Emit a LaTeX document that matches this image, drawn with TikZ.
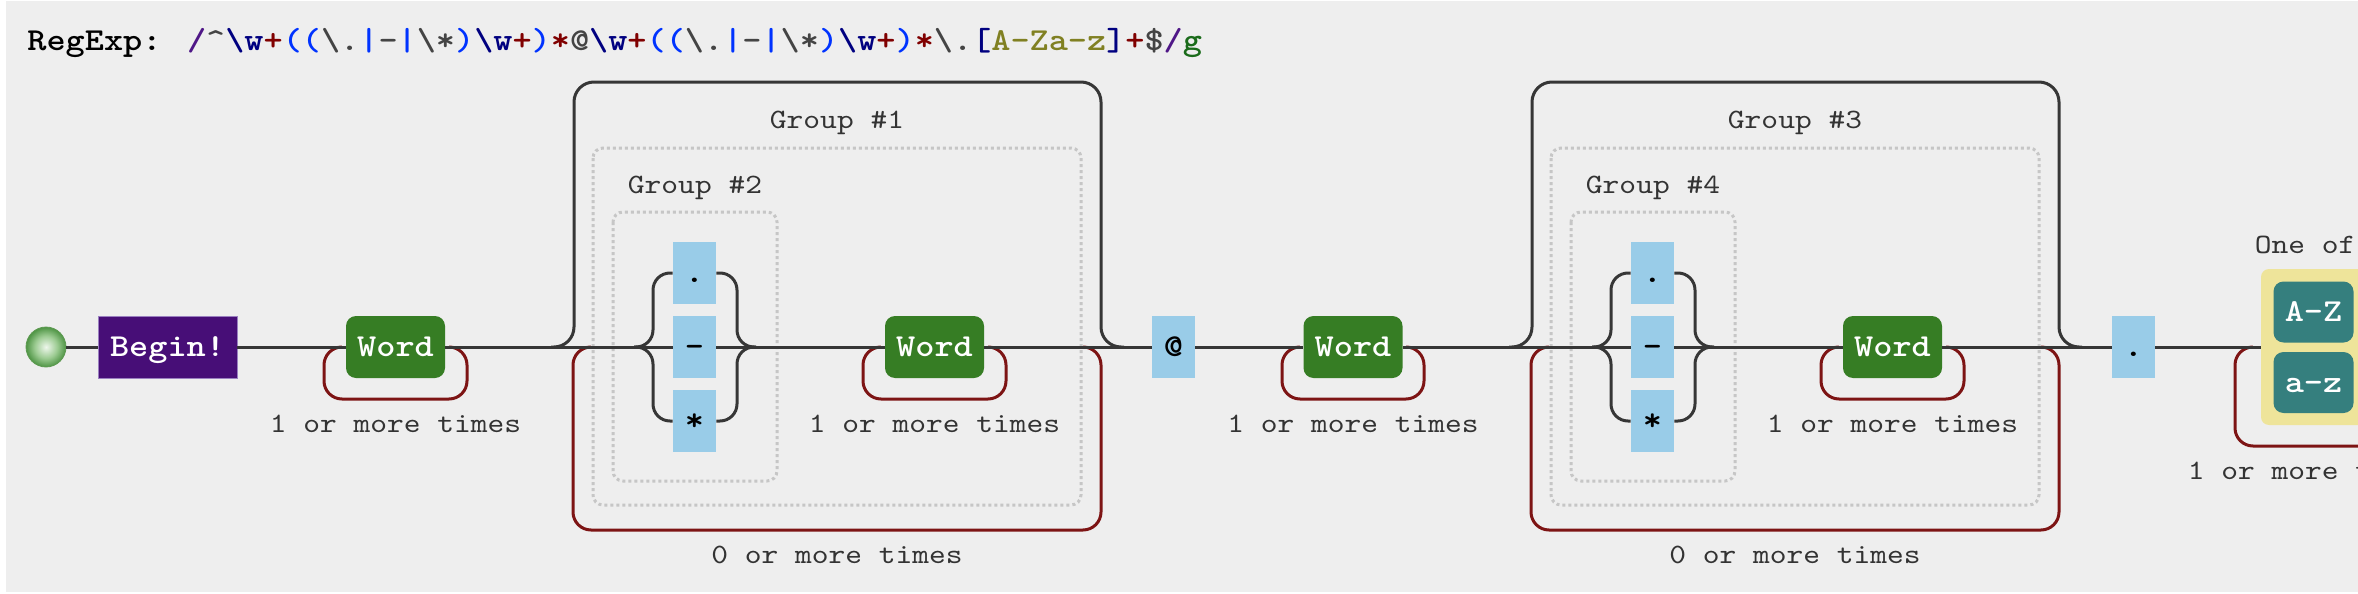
\documentclass[tikz,border=0pt]{standalone}
\usepackage{fontspec}
\newfontfamily\mono{lmmono10-regular}[Extension=.otf, BoldFont=lmmonolt10-bold, FakeStretch=1.14]
\definecolor{bg}{HTML}{EEEEEE}
\definecolor{linec}{HTML}{363636}
\definecolor{loopred}{HTML}{7D1414}
\definecolor{dotgray}{HTML}{C6C6C6}
\definecolor{beginpurple}{HTML}{470E77}
\definecolor{beginborder}{HTML}{9A80C0}
\definecolor{wordgreen}{HTML}{367D24}
\definecolor{litblue}{HTML}{99CCE8}
\definecolor{tealc}{HTML}{357F7E}
\definecolor{yellowc}{HTML}{EEE49A}
\definecolor{labelgray}{HTML}{333333}
\definecolor{rxpurple}{HTML}{4F1787}
\definecolor{rxnavy}{HTML}{000080}
\definecolor{rxred}{HTML}{800000}
\definecolor{rxblue}{HTML}{0033FF}
\definecolor{rxgray}{HTML}{444444}
\definecolor{rxolive}{HTML}{808022}
\definecolor{rxgreen}{HTML}{1A6B1A}
\definecolor{ballin}{HTML}{EEF7EC}
\definecolor{ballmid}{HTML}{9CCB92}
\definecolor{ballout}{HTML}{4E9444}
\definecolor{ballrim}{HTML}{5E9A52}
\pgfdeclareradialshading{ball}{\pgfpoint{0bp}{0bp}}{color(0bp)=(ballin); color(14bp)=(ballmid); color(25bp)=(ballout); color(50bp)=(ballout)}
\tikzset{
  mainline/.style={draw=linec, line width=1.5pt},
  skippath/.style={draw=linec, line width=1.5pt, rounded corners=10pt},
  bracepath/.style={draw=linec, line width=1.5pt, rounded corners=8.5pt},
  looppath/.style={draw=loopred, line width=1.5pt, rounded corners=9pt},
  grpbox/.style={draw=dotgray, line width=1.5pt, dash pattern=on 1.5pt off 1.5pt, rounded corners=5pt},
  boxfont/.style={font=\mono\bfseries\fontsize{16pt}{18pt}\selectfont},
  wordbox/.style={boxfont, fill=wordgreen, text=white, rounded corners=5pt, minimum width=49.5pt, minimum height=31pt, inner sep=0pt, text height=9.5pt, text depth=0pt},
  litbox/.style={boxfont, fill=litblue, text=black, minimum width=21.5pt, minimum height=31pt, inner sep=0pt, text height=9.5pt, text depth=0pt},
  tealbox/.style={boxfont, fill=tealc, text=white, rounded corners=5pt, minimum width=40pt, minimum height=30.5pt, inner sep=0pt, text height=9.5pt, text depth=0pt},
  lbl/.style={font=\mono\fontsize{14pt}{16pt}\selectfont, text=labelgray, anchor=base, inner sep=0pt}
}
\begin{document}
\begin{tikzpicture}[x=0.5pt,y=-0.5pt]
\useasboundingbox (0,0) rectangle (2358,594);
\clip (0,0) rectangle (2358,594);
\fill[white] (0,0) rectangle (2358,594);
\fill[bg] (6,1) rectangle (2358,592);

% title
\node[anchor=base west, inner sep=0pt, font=\mono\bfseries\fontsize{16pt}{18pt}\selectfont] (rx) at (27,50)
{RegExp: {\color{rxpurple}/}{\color{rxgray}\textasciicircum}{\color{rxnavy}\textbackslash w}{\color{rxred}+}{\color{rxblue}((}{\color{rxgray}\textbackslash.}{\color{rxblue}|}{\color{rxgray}-}{\color{rxblue}|}{\color{rxgray}\textbackslash*}{\color{rxblue})}{\color{rxnavy}\textbackslash w}{\color{rxred}+}{\color{rxblue})}{\color{rxred}*}{\color{rxgray}@}{\color{rxnavy}\textbackslash w}{\color{rxred}+}{\color{rxblue}((}{\color{rxgray}\textbackslash.}{\color{rxblue}|}{\color{rxgray}-}{\color{rxblue}|}{\color{rxgray}\textbackslash*}{\color{rxblue})}{\color{rxnavy}\textbackslash w}{\color{rxred}+}{\color{rxblue})}{\color{rxred}*}{\color{rxgray}\textbackslash.}{\color{rxnavy}[}{\color{rxolive}A-Za-z}{\color{rxnavy}]}{\color{rxred}+}{\color{rxgray}\$}{\color{rxpurple}/}{\color{rxgreen}g}};

% group boxes (dotted)
\draw[grpbox] (593,148) rectangle (1081,505);
\draw[grpbox] (613,212) rectangle (777,481);
\draw[grpbox] (1551,148) rectangle (2039,505);
\draw[grpbox] (1571,212) rectangle (1735,481);

% skip paths over groups
\draw[skippath] (551,347) -- (574,347) -- (574,82) -- (1101,82) -- (1101,347) -- (1124,347);
\draw[skippath] (1509,347) -- (1532,347) -- (1532,82) -- (2059,82) -- (2059,347) -- (2082,347);

% repeat loops
\draw[looppath] (342,347) -- (324,347) -- (324,399) -- (467,399) -- (467,347) -- (449,347);
\draw[looppath] (881,347) -- (863,347) -- (863,399) -- (1006,399) -- (1006,347) -- (988,347);
\draw[looppath] (1300,347) -- (1282,347) -- (1282,399) -- (1424,399) -- (1424,347) -- (1406,347);
\draw[looppath] (1839,347) -- (1821,347) -- (1821,399) -- (1964,399) -- (1964,347) -- (1946,347);
\draw[looppath] (591,347) -- (573,347) -- (573,530) -- (1101,530) -- (1101,347) -- (1083,347);
\draw[looppath] (1549,347) -- (1531,347) -- (1531,530) -- (2059,530) -- (2059,347) -- (2041,347);
\draw[looppath] (2253,347) -- (2235,347) -- (2235,446) -- (2392,446) -- (2392,347) -- (2374,347);

% nodes
\node[circle, minimum size=20pt, inner sep=0pt, shading=ball, draw=ballrim, line width=0.4pt] (start) at (46,347) {};
\node[boxfont, fill=beginpurple, draw=beginborder, line width=0.4pt, text=white, minimum width=69.5pt, minimum height=31pt, inner sep=0pt, text height=9.5pt, text depth=0pt] (begin) at (167.5,347) {Begin!};
\node[wordbox] (w1) at (395.5,347) {Word};
\node[litbox] (a1) at (694.5,273) {.};
\node[litbox] (a2) at (694.5,347) {-};
\node[litbox] (a3) at (694.5,421) {*};
\node[wordbox] (w2) at (934.5,347) {Word};
\node[litbox] (at) at (1173.5,347) {@};
\node[wordbox] (w3) at (1353,347) {Word};
\node[litbox] (b1) at (1652.5,273) {.};
\node[litbox] (b2) at (1652.5,347) {-};
\node[litbox] (b3) at (1652.5,421) {*};
\node[wordbox] (w4) at (1892.5,347) {Word};
\node[litbox] (dot) at (2133.5,347) {.};
\node[fill=yellowc, rounded corners=4pt, minimum width=52.5pt, minimum height=78pt, inner sep=0pt] (cls) at (2313.5,347) {};
\node[tealbox] (up) at (2313.5,312) {A-Z};
\node[tealbox] (lo) at (2313.5,382.5) {a-z};

% junction coordinates
\coordinate (jl1) at (634,347);
\coordinate (vl1) at (653,347);
\coordinate (vr1) at (737,347);
\coordinate (jr1) at (756,347);
\coordinate (jl3) at (1592,347);
\coordinate (vl3) at (1611,347);
\coordinate (vr3) at (1695,347);
\coordinate (jr3) at (1714,347);

% main line
\draw[mainline] (start) -- (begin);
\draw[mainline] (begin) -- (w1);
\draw[mainline] (w1) -- (jl1) -- (a2);
\draw[mainline] (a2) -- (jr1) -- (w2);
\draw[mainline] (w2) -- (at);
\draw[mainline] (at) -- (w3);
\draw[mainline] (w3) -- (jl3) -- (b2);
\draw[mainline] (b2) -- (jr3) -- (w4);
\draw[mainline] (w4) -- (dot);
\draw[mainline] (dot) -- (cls);

% alternation braces
\draw[bracepath] (jl1) -- (vl1) |- (a1.west);
\draw[bracepath] (jl1) -- (vl1) |- (a3.west);
\draw[bracepath] (a1.east) -| (vr1) -- (jr1);
\draw[bracepath] (a3.east) -| (vr1) -- (jr1);
\draw[bracepath] (jl3) -- (vl3) |- (b1.west);
\draw[bracepath] (jl3) -- (vl3) |- (b3.west);
\draw[bracepath] (b1.east) -| (vr3) -- (jr3);
\draw[bracepath] (b3.east) -| (vr3) -- (jr3);

% labels
\node[lbl] (lw1) at (395.5,432) {1 or more times};
\node[lbl] (lw2) at (934.5,432) {1 or more times};
\node[lbl] (lw3) at (1353,432) {1 or more times};
\node[lbl] (lw4) at (1892.5,432) {1 or more times};
\node[lbl] (lcls) at (2313.5,479.5) {1 or more times};
\node[lbl] (lg1) at (837,128) {Group \#1};
\node[lbl] (lg2) at (695,193) {Group \#2};
\node[lbl] (lg3) at (1795,128) {Group \#3};
\node[lbl] (lg4) at (1653,193) {Group \#4};
\node[lbl] (lz1) at (837,563) {0 or more times};
\node[lbl] (lz3) at (1795,563) {0 or more times};
\node[lbl] (lone) at (2313.5,253) {One of:};
\end{tikzpicture}
\end{document}
